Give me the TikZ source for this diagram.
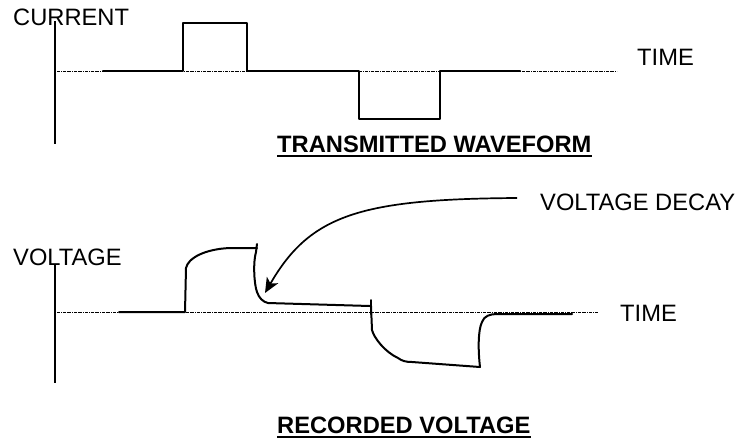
\documentclass[tikz,border=0pt]{standalone}
\usepackage{fontspec}
\setmainfont{Liberation Sans}
\usetikzlibrary{arrows.meta}
\begin{document}
\begin{tikzpicture}[x=1pt,y=-1pt,
  wave/.style={line width=2pt,line join=round,line cap=round},
  axisline/.style={line width=2pt},
  refline/.style={line width=0.6pt,dash pattern=on 3pt off 1pt on 0.6pt off 1pt},
  lbl/.style={inner sep=0pt,anchor=base west,font=\fontsize{23.7}{28}\selectfont},
  ttl/.style={inner sep=0pt,anchor=base west,font=\fontsize{23.7}{28}\selectfont\bfseries},
  uline/.style={line width=2pt}]
\useasboundingbox (0,0) rectangle (743,440);

% ---------- top panel ----------
\node[lbl] (cur) at (13,25) {CURRENT};
\draw[axisline] (55,21) -- (55,144);
\draw[refline] (57,71) -- (617,71);
\node[lbl] (time1) at (637,65) {TIME};
\draw[wave] (103,71) -- (183,71) -- (183,23) -- (247,23) -- (247,71) -- (359,71)
  -- (359,119) -- (440,119) -- (440,71) -- (520,71);
\node[ttl] (tw) at (277,152) {TRANSMITTED WAVEFORM};
\draw[uline] ([yshift=-3.5pt]tw.base west) -- ([yshift=-3.5pt]tw.base east);

% ---------- bottom panel ----------
\node[lbl] (volt) at (13,265) {VOLTAGE};
\draw[axisline] (55,265) -- (55,383);
\draw[refline] (57,312) -- (598,312);
\node[lbl] (time2) at (620,321) {TIME};
\node[lbl] (decay) at (540,210) {VOLTAGE DECAY};

\draw[wave] (119,312) -- (185,312) -- (186,268)
  .. controls (188,258) and (205,249) .. (230,248) -- (257,248);
\draw[wave] (257,244) -- (256,252)
  .. controls (253,262) and (254,284) .. (257,292)
  .. controls (259,298) and (263,302) .. (268,303) -- (370,306);
\draw[wave] (371,300) -- (371,314);
\draw[wave] (371,306) -- (372,330)
  .. controls (374,338) and (385,352) .. (398,358)
  .. controls (402,361) and (406,362) .. (412,362) -- (480,367)
  .. controls (478,350) and (478,330) .. (482,322)
  .. controls (484,316) and (490,314) .. (497,314) -- (572,314);

\node[ttl] (rv) at (277,433) {RECORDED VOLTAGE};
\draw[uline] ([yshift=-3.5pt]rv.base west) -- ([yshift=-3.5pt]rv.base east);

% arrow
\coordinate (ds) at (517,198);
\coordinate (de) at (265,293);
\draw[line width=1.7pt,-{Stealth[length=15pt,width=13pt,inset=4pt]}] (ds)
  .. controls (360,199) and (310,215) .. (de);
\end{tikzpicture}
\end{document}
